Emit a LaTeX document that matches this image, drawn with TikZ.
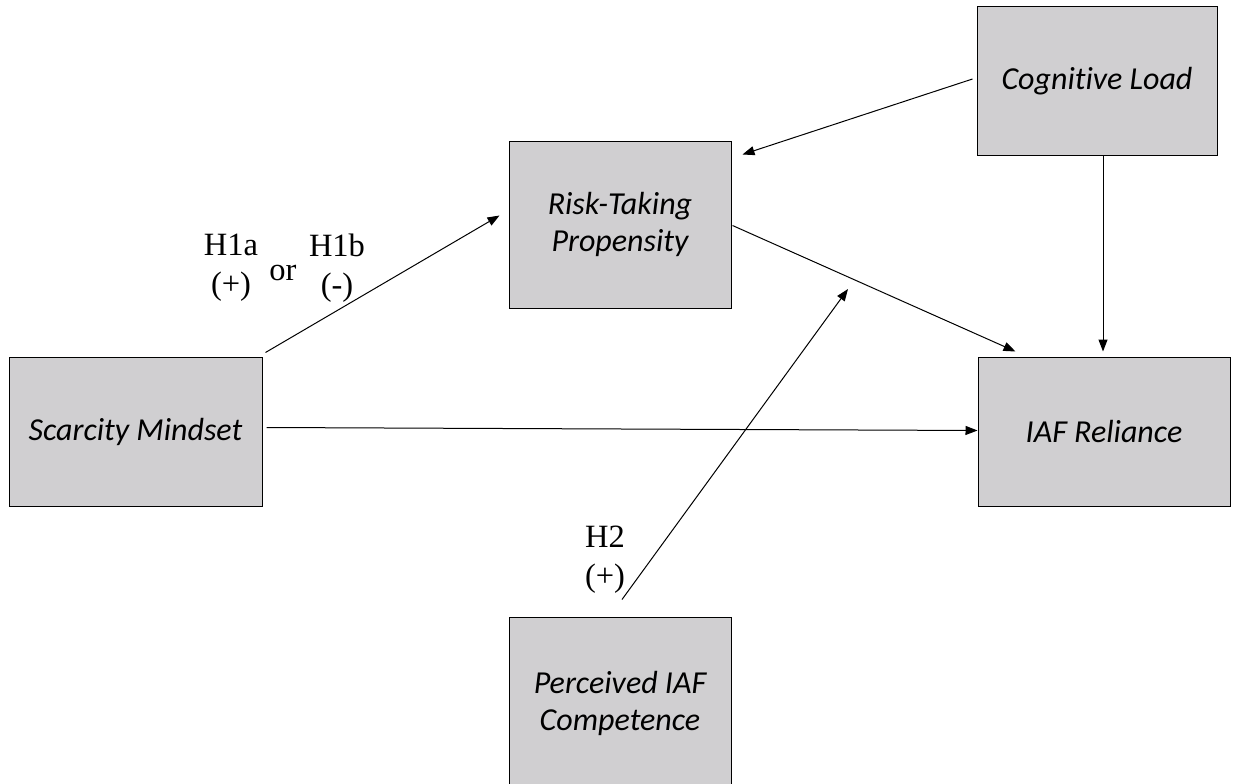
\documentclass[tikz,border=0pt]{standalone}
\usepackage{fontspec}
\setmainfont[Ligatures=NoCommon]{Carlito}
\newfontfamily\hypfont{Liberation Serif}
\usepackage{xcolor}
\usepackage{tikz}
\usetikzlibrary{arrows.meta,calc}

\definecolor{boxgray}{RGB}{208,207,209}

\begin{document}
\begin{tikzpicture}[
  x=1pt, y=-1pt,
  box/.style={draw, line width=1pt, fill=boxgray, inner sep=0pt,
              align=center, font=\fontsize{32}{37}\selectfont\itshape},
  hyp/.style={align=center, inner sep=0pt,
              font=\hypfont\fontsize{32.5}{39}\selectfont},
  >={Triangle[length=12pt,width=9pt]}, line width=1pt
]
  \useasboundingbox (0,0) rectangle (1235,784);

  \node[box, minimum width=253pt, minimum height=149pt] (scm) at (135.5,431.5)
    {Scarcity Mindset};
  \node[box, minimum width=222pt, minimum height=167pt] (rtp) at (620,224.5)
    {Risk-Taking\\Propensity};
  \node[box, minimum width=240pt, minimum height=148pt] (cgl) at (1097,81)
    {Cognitive Load};
  \node[box, minimum width=252pt, minimum height=149pt] (iaf) at (1104,431.5)
    {IAF Reliance};
  \node[box, minimum width=222pt, minimum height=172pt] (pic) at (620,703)
    {Perceived IAF\\Competence};

  \node[hyp] (h1a) at (231,268) {H1a\\(+)};
  \node[hyp] (or)  at (283,273) {or};
  \node[hyp] (h1b) at (337,268) {H1b\\(-)};
  \node[hyp] (h2)  at (605,560) {H2\\(+)};

  \coordinate (mod) at (848,289);

  \draw[->] ($(scm.north east)+(3,-4)$) -- ($(rtp.west)+(-9,-9)$);
  \draw[->] ($(scm.east)+(4,-4)$) -- ($(iaf.west)+(0,-1)$);
  \draw[->] ($(rtp.east)+(1,1)$) -- ($(iaf.north west)+(38,-5)$);
  \draw[->] ($(cgl.west)+(-4,-2)$) -- ($(rtp.north east)+(11,14)$);
  \draw[->] ($(cgl.south)+(6,0)$) -- ($(iaf.north)+(-1,-5)$);
  \draw[->] ($(pic.north)+(2,-17)$) -- (mod);
\end{tikzpicture}
\end{document}
